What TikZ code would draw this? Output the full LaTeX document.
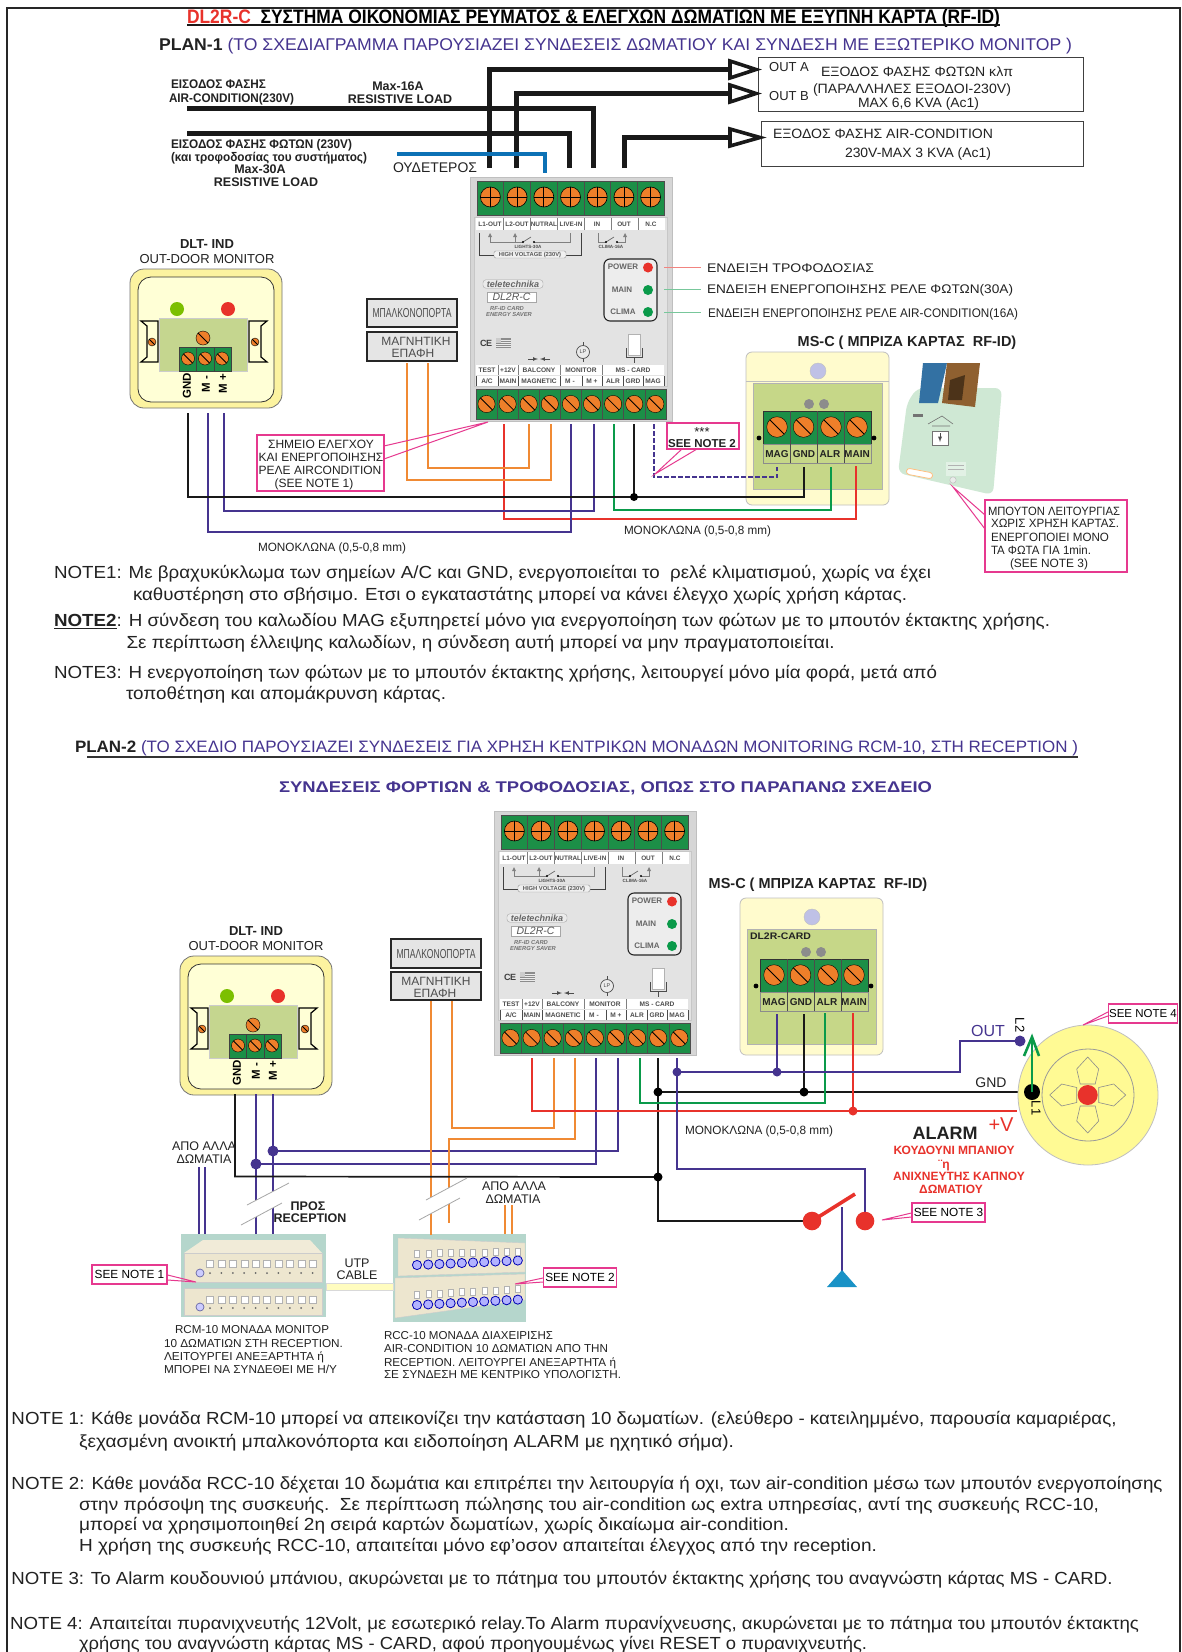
\documentclass[tikz,border=0pt]{standalone}
\usepackage{graphicx}
\usepackage{fontspec}
\setmainfont{Liberation Sans}
\definecolor{txt}{HTML}{222222}
\definecolor{pinkb}{HTML}{E6398F}
\definecolor{purp}{HTML}{45348F}
\definecolor{redw}{HTML}{E8322B}
\definecolor{greenw}{HTML}{0A9A4A}
\definecolor{orangew}{HTML}{F08A34}
\definecolor{termg}{HTML}{1C8F47}
\definecolor{screwo}{HTML}{EE7F2A}
\definecolor{blueN}{HTML}{0C71B5}
\definecolor{cream}{HTML}{EDE6CF}
\definecolor{teal2}{HTML}{B5D6CC}
\definecolor{boardg}{HTML}{C6D788}
\definecolor{monboard}{HTML}{C5D68F}
\definecolor{ylight}{HTML}{FFFBCD}
\definecolor{monouter}{HTML}{FCF3A0}
\definecolor{moninner}{HTML}{FFFFD6}
\definecolor{readerg}{HTML}{CFE8D4}
\newcommand{\LN}[6]{\node[anchor=base west,inner sep=0pt,outer sep=0pt,text=txt] (#1) at (#2,{#3+0.36*#5}) {\resizebox{#4pt}{\height}{\fontsize{#5pt}{#5pt}\selectfont #6}};}
\newcommand{\CN}[5]{\node[anchor=base,inner sep=0pt,outer sep=0pt,text=txt] (#1) at (#2,{#3+0.36*#4}) {\fontsize{#4pt}{#4pt}\selectfont #5};}
\newcommand{\scrX}[3]{\fill[screwo,draw=black,line width=.6pt] (#1,#2) circle (#3);\draw[black,line width=.8pt] ({#1-#3},#2)--({#1+#3},#2) (#1,{#2-#3})--(#1,{#2+#3});}
\newcommand{\scrS}[3]{\fill[screwo,draw=black,line width=.4pt] (#1,#2) circle (#3);\draw[black,line width=.8pt] ({#1-.7*#3},{#2-.7*#3})--({#1+.7*#3},{#2+.7*#3});}
\tikzset{
 wireK/.style={line width=1.7pt,draw=black!90},
 wireP/.style={line width=1.7pt,draw=purp},
 wireR/.style={line width=1.7pt,draw=redw},
 wireG/.style={line width=1.7pt,draw=greenw},
 wireO/.style={line width=1.9pt,draw=orangew},
 thick5/.style={line width=5pt,draw=black!90},
 pinkbox/.style={draw=pinkb,line width=1.2pt,fill=white},
 pinkl/.style={draw=pinkb,line width=1pt},
 opentri/.style={draw=black!90,line width=3.6pt,fill=white,line join=miter},
 magbox/.style={draw=black!85,line width=2.4pt,fill=black!10},
 outbox/.style={draw=black!75,line width=1pt,fill=white},
 brk/.style={draw=black!35,line width=.8pt},
}
% ---- DL2R-C unit, drawn at its plan-1 place, shifted
\newcommand{\dlunit}[3]{\begin{scope}[shift={(#2,#3)}]
 \fill[fill=black!16,draw=black!25,line width=1pt] (470,177) rectangle (672,421);
 \fill[fill=black!11,draw=black!22,line width=.6pt] (474,217) rectangle (667,386);
 \fill[termg,draw=black!70,line width=.5pt] (477,181) rectangle (664,215);
 \foreach \i in {1,...,6}{\draw[black!70,line width=.5pt] ({477+26.7*\i},181)--({477+26.7*\i},215);}
 \foreach \i in {0,...,6}{\scrX{490.4+26.7*\i}{197}{10}}
 \fill[white] (476,218) rectangle (665,230);
 \foreach \i in {1,...,6}{\draw[black!50,line width=.5pt] ({476+27*\i},218)--({476+27*\i},230);}
 \foreach \x/\t [count=\n] in {490/L1-OUT,517/L2-OUT,544/NUTRAL,571/LIVE-IN,597/IN,624/OUT,651/N.C}{\CN{#1s\n}{\x}{224}{6.4}{\bfseries\color{black!70}\t}}
 % circuits
 \draw[black!50,line width=.6pt] (490,236)--(490,242)--(523,242) (515,236)--(515,242) (534,242)--(570,242)--(570,233);
 \draw[black!60,line width=.7pt] (523,242)--(531,237);
 \fill[black] (523,242) circle (1.2) (534,242) circle (1.2);
 \fill[black!50] (490,233)--(488,237)--(492,237)--cycle (515,233)--(513,237)--(517,237)--cycle;
 \CN{#1li}{528}{246.5}{4.6}{\bfseries\color{black!70}LIGHTS-30A}
 \draw[black!75,line width=.9pt] (479,233)--(479,255)--(494,255) (566,255)--(581,255)--(581,233);
 \node[draw=black!40,rounded corners=1.5pt,inner sep=0pt,minimum width=72pt,minimum height=7pt,fill=black!6] (#1hv) at (530,254.5) {\fontsize{5.8pt}{6pt}\selectfont\bfseries\color{black!65}HIGH VOLTAGE (230V)};
 \draw[black!50,line width=.6pt] (598,233)--(598,242)--(606,242) (617,242)--(625,242)--(625,236);
 \draw[black!60,line width=.7pt] (606,242)--(614,237);
 \fill[black] (606,242) circle (1.2) (617,242) circle (1.2);
 \fill[black!50] (625,233)--(623,237)--(627,237)--cycle;
 \CN{#1cl}{611}{246.5}{4.6}{\bfseries\color{black!70}CLIMA-16A}
 % LED panel
 \draw[fill=black!7,draw=black!85,line width=1.1pt,rounded corners=6pt] (604,259) rectangle (657,321);
 \CN{#1pw}{623}{267}{8}{\bfseries\color{black!60}POWER}
 \CN{#1mn}{622}{290}{8}{\bfseries\color{black!60}MAIN}
 \CN{#1cm}{623}{312}{8}{\bfseries\color{black!60}CLIMA}
 \fill[redw] (648,267.5) circle (5);
 \fill[greenw] (648,290) circle (5) (648,312) circle (5);
 % logo
 \node[draw=black!35,rounded corners=3pt,fill=black!8,inner sep=0pt,minimum width=60pt,minimum height=8.5pt] (#1lg) at (513,284) {\fontsize{9pt}{9pt}\selectfont\bfseries\itshape\color{black!60}teletechnika};
 \node[draw=black!35,fill=white,inner sep=0pt,minimum width=49pt,minimum height=10pt] (#1dl) at (511.5,297) {\fontsize{10.5pt}{10pt}\selectfont\itshape\color{black!65}DL2R-C};
 \CN{#1rf}{507}{308}{5.8}{\bfseries\itshape\color{black!55}RF-ID CARD}
 \CN{#1es}{509}{314}{5.8}{\bfseries\itshape\color{black!55}ENERGY SAVER}
 \CN{#1ce}{486}{343}{9}{\bfseries\color{black!75}C\kern-.5pt E}
 \fill[black!45] (496,338) rectangle (511,348);
 \foreach \y in {340,342,344,346}{\draw[black!8,line width=.6pt] (496,\y)--(511,\y);}
 \fill[white!80!black] (496,338) rectangle (501,343);
 % LP
 \draw[black!70,line width=.7pt] (583,342)--(583,345.5) (583,358.5)--(583,362);
 \node[draw=black!70,circle,line width=.7pt,inner sep=0pt,minimum size=13pt,fill=black!8] (#1lp) at (583,352) {\fontsize{5.5pt}{5pt}\selectfont\color{black!70}LP};
 \draw[black!70,line width=.7pt,-latex] (528,359)--(538,359);
 \draw[black!70,line width=.7pt,-latex] (550,359)--(540,359);
 \fill[white,draw=black!30,line width=.4pt] (628,334) rectangle (640,355);
 \draw[black!70,line width=.8pt] (626,348)--(626,357)--(642,357)--(642,348) (634,357)--(634,363);
 % lower label strip
 \fill[white] (476,365) rectangle (664,375);
 \fill[white] (476,376) rectangle (664,386);
 \foreach \x in {498,518,560,602}{\draw[black!50,line width=.6pt] (\x,365)--(\x,375);}
 \foreach \x in {498,518,560,582,602,623,643}{\draw[black!70,line width=.8pt] (\x,376)--(\x,386);}
 \draw[black!70,line width=1pt] (476,376)--(476,386) (664,376)--(664,386);
 \foreach \x/\t [count=\n] in {487/TEST,508/+12V,539/BALCONY,581/MONITOR,633/MS - CARD}{\CN{#1r\n}{\x}{370}{6.6}{\bfseries\color{black!70}\t}}
 \foreach \x/\t [count=\n] in {487/{A/C},508/MAIN,539/MAGNETIC,570/M -,592/M +,613/ALR,633/GRD,653/MAG}{\CN{#1q\n}{\x}{381}{6.6}{\bfseries\color{black!70}\t}}
 % lower terminal
 \fill[termg,draw=black!70,line width=.5pt] (476,389) rectangle (666,419);
 \foreach \i in {1,...,8}{\draw[black!70,line width=.5pt] ({476+21.1*\i},389)--({476+21.1*\i},419);}
 \foreach \i in {0,...,8}{\scrS{486.5+21.1*\i}{404}{8.6}}
\end{scope}}
% ---- DLT-IND monitor
\newcommand{\monit}[3]{\begin{scope}[shift={(#2,#3)}]
 \draw[fill=monouter,draw=black!55,line width=.8pt,rounded corners=14pt] (130,269) rectangle (282,408);
 \draw[fill=moninner,draw=black!80,line width=.8pt,rounded corners=13pt] (138,277) rectangle (274,402);
 \fill[fill=green!35!yellow!75!black] (177,309) circle (7);
 \fill[redw] (228,309) circle (7);
 \fill[fill=monboard,draw=black!20] (159,318) rectangle (247,371);
 \scrS{203}{338}{7}
 \fill[termg,draw=black!75,line width=.5pt] (179,347) rectangle (231,371);
 \draw[black!75,line width=.5pt] (196.5,347)--(196.5,371) (214,347)--(214,371);
 \scrS{188}{358.5}{6.5}\scrS{205}{358.5}{6.5}\scrS{222}{358.5}{6.5}
 \draw[black,line width=1.2pt] (158,321)--(141,321)--(147,326)--(147,357)--(141,362)--(158,362)--cycle;
 \draw[black,line width=1.2pt] (249,321)--(267,321)--(261,326)--(261,357)--(267,362)--(249,362)--cycle;
 \scrS{152}{342}{4}\scrS{255}{342}{4}
 \node[rotate=90,inner sep=0pt] (#1g) at (187,386) {\fontsize{11.5pt}{11pt}\selectfont\bfseries GND};
 \node[rotate=90,inner sep=0pt] (#1m) at (206,384) {\fontsize{11.5pt}{11pt}\selectfont\bfseries M -};
 \node[rotate=90,inner sep=0pt] (#1p) at (223,384) {\fontsize{11.5pt}{11pt}\selectfont\bfseries M +};
\end{scope}}
% ---- MS-C terminal block
\newcommand{\msterm}[3]{\begin{scope}[shift={(#2,#3)}]
 \fill[termg,draw=black!80,line width=.6pt] (763,411) rectangle (871,444);
 \draw[black!45,line width=.5pt] (763,444) rectangle (871,463);
 \foreach \i in {1,2,3}{\draw[black!70,line width=.5pt] ({763+27*\i},411)--({763+27*\i},463);}
 \scrS{777}{427}{10.3}\scrS{803.5}{427}{10.3}\scrS{831}{427}{10.3}\scrS{857}{427}{10.3}
 \foreach \x/\t [count=\n] in {777/MAG,804/GND,830/ALR,857/MAIN}{\CN{#1l\n}{\x}{454}{10}{\bfseries\t}}
 \fill[black] (759,438) circle (2.4) (874,438) circle (2.4);
 \fill[black!45] (809,404) circle (5) (824,404) circle (5);
\end{scope}}
\begin{document}
\begin{tikzpicture}[x=1pt,y=-1pt]
\useasboundingbox (0,0) rectangle (1181,1652);
\fill[white] (0,0) rectangle (1181,1652);
\draw[black!85,line width=1.5pt] (7,1652)--(7,8)--(1180,8)--(1180,1652);
% ================= headings
\LN{title}{187}{16}{813}{19.5}{\bfseries\color{redw}DL2R-C\color{black}\ \ ΣΥΣΤΗΜΑ ΟΙΚΟΝΟΜΙΑΣ ΡΕΥΜΑΤΟΣ \& ΕΛΕΓΧΩΝ ΔΩΜΑΤΙΩΝ ΜΕ ΕΞΥΠΝΗ ΚΑΡΤΑ (RF-ID)}
\draw[black!90,line width=1.4pt] (187,25)--(1000,25);
\LN{plan1}{159}{44}{913}{17}{\textbf{PLAN-1} \color{purp}(ΤΟ ΣΧΕΔΙΑΓΡΑΜΜΑ ΠΑΡΟΥΣΙΑΖΕΙ ΣΥΝΔΕΣΕΙΣ ΔΩΜΑΤΙΟΥ ΚΑΙ ΣΥΝΔΕΣΗ ΜΕ ΕΞΩΤΕΡΙΚΟ ΜΟΝΙΤΟΡ )}
% ================= plan-1 units
\dlunit{a}{0}{0}
\monit{ma}{0}{0}
\CN{madlt}{207}{244}{13}{\bfseries DLT- IND}
\CN{maout}{207}{259}{13}{OUT-DOOR MONITOR}
% thick wires
\coordinate (tA) at (489,168); \coordinate (tB) at (516,168); \coordinate (tN) at (545,173);
\coordinate (tL) at (569,168); \coordinate (tC) at (593,168); \coordinate (tO) at (624,168);
\coordinate (inC) at (187,108); \coordinate (inL) at (187,133); \coordinate (inN) at (397,154);
\coordinate (arA) at (732,69); \coordinate (arB) at (732,93); \coordinate (arC) at (732,137);
\draw[thick5] (inC) -| (tC);
\draw[thick5] (inL) -| (tL);
\draw[thick5] (tA) |- (arA);
\draw[thick5] (tB) |- (arB);
\draw[thick5] (tO) |- (arC);
\draw[line width=3.6pt,draw=blueN] (inN) -| (tN);
% out boxes
\draw[outbox] (758,57) rectangle (1083,111);
\draw[outbox] (761,121) rectangle (1083,166);
\draw[opentri] (730,61)--(756,69.5)--(730,78)--cycle;
\draw[opentri] (730,85)--(756,93.5)--(730,102)--cycle;
\draw[opentri] (730,129)--(760,137.5)--(730,146)--cycle;
\CN{oa}{789}{67}{13}{OUT A}
\CN{ob}{789}{96}{13}{OUT B}
\LN{o1}{821}{72}{192}{13.5}{ΕΞΟΔΟΣ ΦΑΣΗΣ ΦΩΤΩΝ κλπ}
\LN{o2}{813}{89}{198}{13.5}{(ΠΑΡΑΛΛΗΛΕΣ ΕΞΟΔΟΙ-230V)}
\LN{o3}{858}{103}{121}{13.5}{MAX 6,6 KVA (Ac1)}
\LN{o4}{773}{134}{220}{13.5}{ΕΞΟΔΟΣ ΦΑΣΗΣ AIR-CONDITION}
\LN{o5}{845}{153}{146}{13.5}{230V-MAX 3 KVA (Ac1)}
% input labels
\LN{i1}{171}{84}{95}{12.5}{\bfseries ΕΙΣΟΔΟΣ ΦΑΣΗΣ}
\LN{i2}{169}{98}{125}{12.5}{\bfseries AIR-CONDITION(230V)}
\CN{i3}{398}{86}{12.5}{\bfseries Max-16A}
\CN{i4}{400}{99}{12.5}{\bfseries RESISTIVE LOAD}
\LN{i5}{171}{144}{181}{12.5}{\bfseries ΕΙΣΟΔΟΣ ΦΑΣΗΣ ΦΩΤΩΝ (230V)}
\LN{i6}{171}{157}{196}{12.5}{\bfseries (και τροφοδοσίας του συστήματος)}
\CN{i7}{260}{169}{12.5}{\bfseries Max-30A}
\CN{i8}{266}{182}{12.5}{\bfseries RESISTIVE LOAD}
\LN{nt}{393}{167}{84}{14}{ΟΥΔΕΤΕΡΟΣ}
% LED leaders
\draw[line width=.7pt,draw=redw!60] (664,267)--(701,267);
\draw[line width=.7pt,draw=greenw!55] (664,289)--(701,289);
\draw[line width=.7pt,draw=greenw!55] (664,312)--(701,312);
\LN{e1}{707}{268}{167}{12.5}{ΕΝΔΕΙΞΗ ΤΡΟΦΟΔΟΣΙΑΣ}
\LN{e2}{707}{289}{306}{12.5}{ΕΝΔΕΙΞΗ ΕΝΕΡΓΟΠΟΙΗΣΗΣ ΡΕΛΕ ΦΩΤΩΝ(30A)}
\LN{e3}{708}{313}{310}{12.5}{ΕΝΔΕΙΞΗ ΕΝΕΡΓΟΠΟΙΗΣΗΣ ΡΕΛΕ AIR-CONDITION(16A)}
% magnet boxes
\draw[magbox] (367,299) rectangle (457,327);
\draw[magbox] (367,332) rectangle (457,361);
\node[inner sep=0pt] (mg1) at (412,313) {\resizebox{79pt}{\height}{\fontsize{13pt}{13pt}\selectfont\color{black!70}ΜΠΑΛΚΟΝΟΠΟΡΤΑ}};
\CN{mg2}{416}{341}{12}{\color{black!70}ΜΑΓΝΗΤΙΚΗ}
\CN{mg3}{413}{353}{12}{\color{black!70}ΕΠΑΦΗ}
% MS-C 1
\CN{msa}{907}{341}{14.5}{\bfseries MS-C ( ΜΠΡΙΖΑ ΚΑΡΤΑΣ\ \ RF-ID)}
\draw[fill=ylight,draw=black!25,line width=.8pt,rounded corners=6pt] (746,352) rectangle (889,505);
\draw[black!25,line width=.6pt] (746,381)--(889,381);
\fill[fill=boardg,draw=black!30,line width=.5pt] (753,383) rectangle (882,489);
\fill[fill=cyan!25!blue!25!white,draw=black!25] (818,371) circle (8);
\msterm{ta}{0}{0}
% Card reader picture
\fill[fill=readerg,rounded corners=7pt] (917,388)--(1002,388)--(993,495)--(898,473)--(907,403)--cycle;
\fill[fill=blue!45!cyan!55!black!80] (923,363)--(947,363)--(938,403)--(919,403)--cycle;
\fill[fill=brown!75!black] (947,363)--(980,363)--(975,407)--(942,403)--cycle;
\fill[fill=black!60!brown] (950,380)--(965,375)--(962,400)--(948,400)--cycle;
\draw[black!55,line width=.6pt] (928,424)--(942,416)--(953,424) (932,426)--(950,426);
\draw[black!55,fill=white,line width=.6pt] (932,431) rectangle (948,445);
\draw[black!70,line width=.9pt,-latex] (940,433)--(940,442);
\fill[white,draw=orange!50,line width=.8pt,rounded corners=3pt] (907,468)--(933,473)--(932,479)--(906,474)--cycle;
\fill[readerg!60!white] (946,462) rectangle (966,476);
\draw[black!30,line width=.5pt] (948,465)--(964,465) (948,469)--(964,469);
\fill[readerg!70!black!20,draw=black!25,line width=.5pt] (953,480) circle (3.2);
\fill[black!55] (913,414) rectangle (923,417);
% plan-1 thin wires
\coordinate (w1g) at (188,413); \coordinate (w1m) at (208,413); \coordinate (w1p) at (224,413);
\coordinate (o1a) at (407,363); \coordinate (o1b) at (428,363);
\coordinate (ub2) at (504,424); \coordinate (ub3) at (529,424); \coordinate (ub4) at (551,424);
\coordinate (ub5) at (571,424); \coordinate (ub6) at (594,424); \coordinate (ub7) at (614,424);
\coordinate (ub8) at (634,424); \coordinate (ub9) at (654,424);
\coordinate (sgnd) at (804,467); \coordinate (salr) at (831,467); \coordinate (smain) at (856,466); \coordinate (smag) at (777,467);
\coordinate (ja) at (634,497);
\draw[wireR] (ub2) -- (504,519) -| (smain);
\draw[wireO] (o1a) -- (407,480) -| (ub4);
\draw[wireO] (o1b) -- (428,468) -| (ub3);
\draw[wireP] (w1m) -- (208,532) -| (ub5);
\draw[wireP] (w1p) -- (224,511) -| (ub6);
\draw[wireG] (ub7) -- (614,510) -| (salr);
\draw[wireK] (w1g) -- (188,497) -| (sgnd);
\draw[wireK] (ub8) -- (ja);
\fill[black] (ja) circle (4);
\draw[draw=purp,line width=2.4pt,dash pattern=on 4.5pt off 2.5pt] (ub9) -- (654,477) -| (smag);
% pink labels plan 1
\node[pinkbox,minimum width=127pt,minimum height=56pt,inner sep=0pt] (pk1) at (320.5,463) {};
\CN{pk1a}{321}{444}{12}{ΣΗΜΕΙΟ ΕΛΕΓΧΟΥ}
\CN{pk1b}{321}{457}{12}{ΚΑΙ ΕΝΕΡΓΟΠΟΙΗΣΗΣ}
\CN{pk1c}{320}{470}{12}{ΡΕΛΕ AIRCONDITION}
\CN{pk1d}{314}{483}{12}{(SEE NOTE 1)}
\coordinate (pk1t) at (488,422);
\draw[pinkl] (384,446)--(pk1t)--(384,459);
\node[pinkbox,minimum width=72pt,minimum height=26pt,inner sep=0pt] (pk2) at (703,436) {};
\CN{pk2a}{702}{432}{13}{***}
\CN{pk2b}{702}{443}{11.5}{\bfseries SEE NOTE 2}
\coordinate (pk2t) at (655,474);
\draw[pinkl] (682,449)--(pk2t)--(697,449);
\coordinate (pk3t) at (953,487);
\draw[pinkl] (985,515)--(pk3t)--(985,529);
\node[pinkbox,minimum width=142pt,minimum height=72pt,inner sep=0pt] (pk3) at (1056,536) {};
\LN{pk3a}{988}{511}{132}{12}{ΜΠΟΥΤΟΝ ΛΕΙΤΟΥΡΓΙΑΣ}
\LN{pk3b}{991}{523}{128}{12}{ΧΩΡΙΣ ΧΡΗΣΗ ΚΑΡΤΑΣ.}
\LN{pk3c}{991}{537}{118}{12}{ΕΝΕΡΓΟΠΟΙΕΙ ΜΟΝΟ}
\LN{pk3d}{991}{550}{100}{12}{ΤΑ ΦΩΤΑ ΓΙΑ 1min.}
\LN{pk3e}{1010}{563}{78}{12}{(SEE NOTE 3)}
\LN{mono1}{624}{530}{147}{12}{ΜΟΝΟΚΛΩΝΑ (0,5-0,8 mm)}
\LN{mono2}{258}{547}{148}{12}{ΜΟΝΟΚΛΩΝΑ (0,5-0,8 mm)}
% ================= notes plan 1
\LN{n1a}{54}{572}{877}{17.5}{NOTE1: Με βραχυκύκλωμα των σημείων A/C και GND, ενεργοποιείται το\ \ ρελέ κλιματισμού, χωρίς να έχει}
\LN{n1b}{133}{594}{774}{17.5}{καθυστέρηση στο σβήσιμο. Ετσι ο εγκαταστάτης μπορεί να κάνει έλεγχο χωρίς χρήση κάρτας.}
\LN{n2a}{54}{620}{996}{17.5}{\underline{\textbf{NOTE2}}: Η σύνδεση του καλωδίου MAG εξυπηρετεί μόνο για ενεργοποίηση των φώτων με το μπουτόν έκτακτης χρήσης.}
\LN{n2b}{126.5}{642}{708}{17.5}{Σε περίπτωση έλλειψης καλωδίων, η σύνδεση αυτή μπορεί να μην πραγματοποιείται.}
\LN{n3a}{54}{672}{883}{17.5}{NOTE3: Η ενεργοποίηση των φώτων με το μπουτόν έκτακτης χρήσης, λειτουργεί μόνο μία φορά, μετά από}
\LN{n3b}{126}{693}{320}{17.5}{τοποθέτηση και απομάκρυνση κάρτας.}
\LN{plan2}{75}{747}{1003}{16.5}{\textbf{PLAN-2} \color{purp}(ΤΟ ΣΧΕΔΙΟ ΠΑΡΟΥΣΙΑΖΕΙ ΣΥΝΔΕΣΕΙΣ ΓΙΑ ΧΡΗΣΗ ΚΕΝΤΡΙΚΩΝ ΜΟΝΑΔΩΝ MONITORING RCM-10, ΣΤΗ RECEPTION )}
\draw[black!80,line width=2pt] (87,757)--(1078,757);
\LN{syn}{279}{787}{653}{15.5}{\bfseries\color{purp}ΣΥΝΔΕΣΕΙΣ ΦΟΡΤΙΩΝ \& ΤΡΟΦΟΔΟΣΙΑΣ, ΟΠΩΣ ΣΤΟ ΠΑΡΑΠΑΝΩ ΣΧΕΔΕΙΟ}
% ================= plan-2 units
\dlunit{b}{24}{634}
\monit{mb}{50}{687}
\CN{mbdlt}{256}{931}{13}{\bfseries DLT- IND}
\CN{mbout}{256}{946}{13}{OUT-DOOR MONITOR}
\draw[magbox] (391,939) rectangle (481,968);
\draw[magbox] (391,972) rectangle (481,1000);
\node[inner sep=0pt] (mg4) at (436,954) {\resizebox{79pt}{\height}{\fontsize{13pt}{13pt}\selectfont\color{black!70}ΜΠΑΛΚΟΝΟΠΟΡΤΑ}};
\CN{mg5}{436}{981}{12}{\color{black!70}ΜΑΓΝΗΤΙΚΗ}
\CN{mg6}{435}{993}{12}{\color{black!70}ΕΠΑΦΗ}
% MS-C 2
\CN{msb}{818}{883}{14.5}{\bfseries MS-C ( ΜΠΡΙΖΑ ΚΑΡΤΑΣ\ \ RF-ID)}
\draw[fill=ylight,draw=black!25,line width=.8pt,rounded corners=6pt] (740,898) rectangle (883,1055);
\fill[fill=boardg,draw=black!30,line width=.5pt] (747,929) rectangle (876,1044);
\fill[fill=cyan!25!blue!25!white,draw=black!25] (812,917) circle (8);
\msterm{tb}{-3}{548}
\LN{dlc}{750}{936}{61}{9.5}{\bfseries DL2R-CARD}
% RCM picture
\fill[teal2] (181,1234) rectangle (326,1317);
\fill[cream!80!white] (203,1240)--(310,1240)--(322,1253)--(184,1253)--cycle;
\fill[cream,draw=black!20,line width=.4pt] (184,1253) rectangle (322,1282);
\fill[cream,draw=black!20,line width=.4pt] (184,1288) rectangle (322,1315);
\foreach \i in {0,...,9}{
 \fill[white,draw=black!30,line width=.3pt] ({210+11.4*\i-3.5},1260) rectangle ({210+11.4*\i+3.5},1267);
 \fill[black!60] ({210+11.4*\i},1273) circle (1);
 \fill[white,draw=black!30,line width=.3pt] ({210+11.4*\i-3.5},1296) rectangle ({210+11.4*\i+3.5},1303);
 \fill[black!60] ({210+11.4*\i},1308) circle (1);
}
\draw[blue!40!black!60,fill=white!80!blue,line width=.7pt] (200,1273) circle (4) (200,1307) circle (4);
% RCC picture
\fill[teal2] (393,1234) rectangle (526,1322);
\fill[cream,draw=black!20,line width=.4pt] (398,1238)--(525,1243)--(525,1272)--(398,1276)--cycle;
\fill[cream,draw=black!20,line width=.4pt] (395,1278)--(525,1274)--(525,1300)--(395,1318)--cycle;
\foreach \i in {0,...,9}{
 \draw[blue!70!black,fill=white!70!blue,line width=.8pt] ({417+11.2*\i},{1265-.5*\i}) circle (4.6);
 \fill[white,draw=black!30,line width=.3pt] ({417+11.2*\i-2.5},{1250-.2*\i}) rectangle ({417+11.2*\i+2.5},{1257-.2*\i});
 \draw[blue!70!black,fill=white!70!blue,line width=.8pt] ({417+11.2*\i},{1305-.6*\i}) circle (4.6);
 \fill[white,draw=black!30,line width=.3pt] ({417+11.2*\i-2.5},{1291-.6*\i}) rectangle ({417+11.2*\i+2.5},{1298-.6*\i});
}
\fill[yellow!25!white,draw=black!15,line width=.4pt] (326,1283) rectangle (393,1290);
% plan-2 wires
\coordinate (w2g) at (235,1094); \coordinate (w2m) at (256,1094); \coordinate (w2p) at (273,1094);
\coordinate (rcmA) at (256,1234); \coordinate (rcmB) at (273,1234);
\coordinate (rcmC) at (199,1234); \coordinate (rcmD) at (205,1234);
\coordinate (fromA) at (199,1167); \coordinate (fromB) at (205,1167);
\coordinate (rccA) at (431,1235); \coordinate (rccB) at (505,1234); \coordinate (rccC) at (512,1234);
\coordinate (fromC) at (505,1205); \coordinate (fromD) at (512,1205);
\coordinate (mgA) at (431,1001); \coordinate (mgB) at (452,1001); \coordinate (freeO) at (449,1223);
\coordinate (vb2) at (532,1058); \coordinate (vb3) at (554,1058); \coordinate (vb4) at (575,1058);
\coordinate (vb5) at (596,1058); \coordinate (vb6) at (618,1058); \coordinate (vb7) at (640,1058);
\coordinate (vb8) at (658,1058); \coordinate (vb9) at (677,1058);
\coordinate (s2mag) at (777,1014); \coordinate (s2gnd) at (804,1014); \coordinate (s2alr) at (825,1013); \coordinate (s2main) at (853,1013);
\coordinate (jm) at (256,1164); \coordinate (jp) at (273,1151);
\coordinate (jk) at (658,1177); \coordinate (jk2) at (658,1092); \coordinate (jk3) at (804,1092);
\coordinate (jv) at (677,1072); \coordinate (jv2) at (777,1072); \coordinate (jr) at (853,1111);
\coordinate (dL1) at (1032,1092); \coordinate (dL2) at (1020,1041); \coordinate (dV) at (1017,1111);
\coordinate (sw1) at (812,1221); \coordinate (sw2) at (865,1221); \coordinate (swT) at (855,1194);
\coordinate (swS) at (842,1207); \coordinate (bell) at (842,1272);
\draw[wireP] (fromA)--(rcmC); \draw[wireP] (fromB)--(rcmD);
\draw[wireP] (w2m)--(rcmA); \draw[wireP] (w2p)--(rcmB);
\draw[wireP] (jm) -| (vb5); \draw[wireP] (jp) -| (vb6);
\draw[wireO] (mgA)--(rccA);
\draw[wireO] (mgB) -- (452,1128) -| (vb3);
\draw[wireO] (vb4) -- (575,1139) -| (freeO);
\draw[wireO] (fromC)--(rccB); \draw[wireO] (fromD)--(rccC);
\draw[wireK] (w2g) -- (235,1176.5) -- (jk);
\draw[wireK] (vb8)--(658,1221)--(sw1);
\draw[wireK] (jk2)--(dL1);
\draw[wireK] (s2gnd)--(jk3);
\draw[wireR] (vb2) -- (532,1111) -- (dV);
\draw[wireR] (s2main)--(jr);
\draw[wireG] (vb7) -- (640,1103) -| (s2alr);
\draw[wireP] (vb9) -- (677,1169) -| (sw2);
\draw[wireP] (jv) -- (960,1072) |- (dL2);
\draw[wireP] (s2mag)--(jv2);
\draw[wireP] (swS)--(bell);
\fill[purp] (jm) circle (5.5) (jp) circle (5.5);
\fill[black] (jk) circle (4.5) (jk2) circle (4.5) (jk3) circle (4.5);
\fill[purp] (jv) circle (4.5) (jv2) circle (4.5) (dL2) circle (5.5);
\fill[redw] (jr) circle (4.5);
% break marks
\fill[white] (247,1205)--(289,1183)--(282,1203)--(241,1225)--cycle;
\draw[brk] (247,1205)--(289,1183) (241,1225)--(282,1203);
\fill[white] (426,1200)--(467,1178)--(460,1198)--(419,1220)--cycle;
\draw[brk] (426,1200)--(467,1178) (419,1220)--(460,1198);
% switch
\draw[draw=redw,line width=3.6pt] (sw1)--(swT);
\fill[redw] (sw1) circle (9.3) (sw2) circle (9.3);
\fill[fill=blue!30!cyan!75!black!90] (842,1270)--(827,1287)--(857,1287)--cycle;
% detector
\draw[fill=yellow!42!white,draw=black!25,line width=.8pt] (1088,1095) circle (70);
\draw[draw=black!40,line width=.8pt] (1088,1095) circle (46);
\foreach \r in {0,90,180,270}{
 \draw[draw=black!45,line width=.6pt,rotate around={\r:(1087.7,1095)}] (1087.7,1057)--(1098.7,1069)--(1095.2,1084)--(1080.2,1084)--(1076.7,1069)--cycle;
}
\fill[redw] (1087.7,1095) circle (10);
\fill[black] (dL1) circle (8);
\draw[draw=greenw,line width=2.6pt] (dL1)--(1032,1037);
\draw[draw=greenw,line width=2.6pt] (1024,1056)--(1032,1037)--(1039,1056);
\node[rotate=-90,inner sep=0pt] (L2) at (1020,1025) {\fontsize{13pt}{13pt}\selectfont L2};
\node[rotate=-90,inner sep=0pt] (L1) at (1036,1108) {\fontsize{13pt}{13pt}\selectfont L1};
\CN{dout}{988}{1031}{16}{\color{purp}OUT}
\CN{dgnd}{991}{1082}{14}{GND}
\CN{dv}{1001}{1124}{20}{\color{redw}+V}
\CN{alm}{945}{1133}{18}{\bfseries ALARM}
\CN{al1}{954}{1150}{12}{\bfseries\color{redw}ΚΟΥΔΟΥΝΙ ΜΠΑΝΙΟΥ}
\CN{al2}{944}{1164}{12}{\bfseries\color{redw}¨η}
\CN{al3}{959}{1176}{12}{\bfseries\color{redw}ΑΝΙΧΝΕΥΤΗΣ ΚΑΠΝΟΥ}
\CN{al4}{951}{1189}{12}{\bfseries\color{redw}ΔΩΜΑΤΙΟΥ}
\LN{mono3}{685}{1130}{148}{12}{ΜΟΝΟΚΛΩΝΑ (0,5-0,8 mm)}
% texts plan-2
\CN{ap1}{204}{1146}{12.5}{ΑΠΟ ΑΛΛΑ}
\CN{ap2}{204}{1159}{12.5}{ΔΩΜΑΤΙΑ}
\CN{ap3}{514}{1186}{12.5}{ΑΠΟ ΑΛΛΑ}
\CN{ap4}{513}{1199}{12.5}{ΔΩΜΑΤΙΑ}
\CN{pr1}{308}{1206}{12.5}{\bfseries ΠΡΟΣ}
\CN{pr2}{310}{1218}{12.5}{\bfseries RECEPTION}
\CN{ut1}{357}{1263}{12.5}{UTP}
\CN{ut2}{357}{1275}{12.5}{CABLE}
% pink boxes plan 2
\node[pinkbox,minimum width=75pt,minimum height=19pt,inner sep=0pt] (sn1) at (129.5,1274.5) {\fontsize{11.8pt}{12pt}\selectfont SEE NOTE 1};
\coordinate (sn1t) at (196,1282);
\draw[pinkl] (sn1.east |- 0,1275)--(sn1t)--(sn1.east |- 0,1280);
\node[pinkbox,minimum width=73pt,minimum height=19pt,inner sep=0pt] (sn2) at (580,1277.5) {\fontsize{11.8pt}{12pt}\selectfont SEE NOTE 2};
\coordinate (sn2t) at (515,1284);
\draw[pinkl] (sn2.west |- 0,1278)--(sn2t)--(sn2.west |- 0,1282);
\node[pinkbox,minimum width=73pt,minimum height=19pt,inner sep=0pt] (sn3) at (948.5,1212.5) {\fontsize{11.8pt}{12pt}\selectfont SEE NOTE 3};
\coordinate (sn3t) at (882,1220);
\draw[pinkl] (sn3.west |- 0,1213)--(sn3t)--(sn3.west |- 0,1217);
\node[pinkbox,minimum width=69pt,minimum height=19pt,inner sep=0pt] (sn4) at (1143,1013.5) {\fontsize{11.5pt}{12pt}\selectfont SEE NOTE 4};
\coordinate (sn4t) at (1083,1025);
\draw[pinkl] (sn4.west |- 0,1012)--(sn4t)--(sn4.west |- 0,1016);
% captions
\LN{c1}{175}{1329}{154}{11.5}{RCM-10 ΜΟΝΑΔΑ ΜΟΝΙΤΟΡ}
\LN{c2}{164}{1343}{179}{11.5}{10 ΔΩΜΑΤΙΩΝ ΣΤΗ RECEPTION.}
\LN{c3}{164}{1356}{160}{11.5}{ΛΕΙΤΟΥΡΓΕΙ ΑΝΕΞΑΡΤΗΤΑ ή}
\LN{c4}{164}{1369}{173}{11.5}{ΜΠΟΡΕΙ ΝΑ ΣΥΝΔΕΘΕΙ ΜΕ Η/Υ}
\LN{d1}{384}{1335}{169}{11.5}{RCC-10 ΜΟΝΑΔΑ ΔΙΑΧΕΙΡΙΣΗΣ}
\LN{d2}{384}{1348}{224}{11.5}{AIR-CONDITION 10 ΔΩΜΑΤΙΩΝ ΑΠΟ ΤΗΝ}
\LN{d3}{384}{1362}{232}{11.5}{RECEPTION. ΛΕΙΤΟΥΡΓΕΙ ΑΝΕΞΑΡΤΗΤΑ ή}
\LN{d4}{384}{1374}{237}{11.5}{ΣΕ ΣΥΝΔΕΣΗ ΜΕ ΚΕΝΤΡΙΚΟ ΥΠΟΛΟΓΙΣΤΗ.}
% notes plan 2
\LN{m1a}{11.5}{1418}{1105}{17.5}{NOTE 1: Κάθε μονάδα RCM-10 μπορεί να απεικονίζει την κατάσταση 10 δωματίων. (ελεύθερο - κατειλημμένο, παρουσία καμαριέρας,}
\LN{m1b}{79}{1441}{655}{17.5}{ξεχασμένη ανοικτή μπαλκονόπορτα και ειδοποίηση ALARM με ηχητικό σήμα).}
\LN{m2a}{11.5}{1483}{1151}{17.5}{NOTE 2: Κάθε μονάδα RCC-10 δέχεται 10 δωμάτια και επιτρέπει την λειτουργία ή οχι, των air-condition μέσω των μπουτόν ενεργοποίησης}
\LN{m2b}{79}{1504}{1020}{17.5}{στην πρόσοψη της συσκευής.\ \ Σε περίπτωση πώλησης του air-condition ως extra υπηρεσίας, αντί της συσκευής RCC-10,}
\LN{m2c}{79}{1524}{710}{17.5}{μπορεί να χρησιμοποιηθεί 2η σειρά καρτών δωματίων, χωρίς δικαίωμα air-condition.}
\LN{m2d}{79}{1545}{798}{17.5}{Η χρήση της συσκευής RCC-10, απαιτείται μόνο εφ’οσον απαιτείται έλεγχος από την reception.}
\LN{m3a}{11.5}{1578}{1101}{17.5}{NOTE 3: Το Alarm κουδουνιού μπάνιου, ακυρώνεται με το πάτημα του μπουτόν έκτακτης χρήσης του αναγνώστη κάρτας MS - CARD.}
\LN{m4a}{10}{1623}{1129}{17.5}{NOTE 4: Απαιτείται πυρανιχνευτής 12Volt, με εσωτερικό relay.Το Alarm πυρανίχνευσης, ακυρώνεται με το πάτημα του μπουτόν έκτακτης}
\LN{m4b}{79}{1643}{788}{17.5}{χρήσης του αναγνώστη κάρτας MS - CARD, αφού προηγουμένως γίνει RESET ο πυρανιχνευτής.}
\end{tikzpicture}
\end{document}
